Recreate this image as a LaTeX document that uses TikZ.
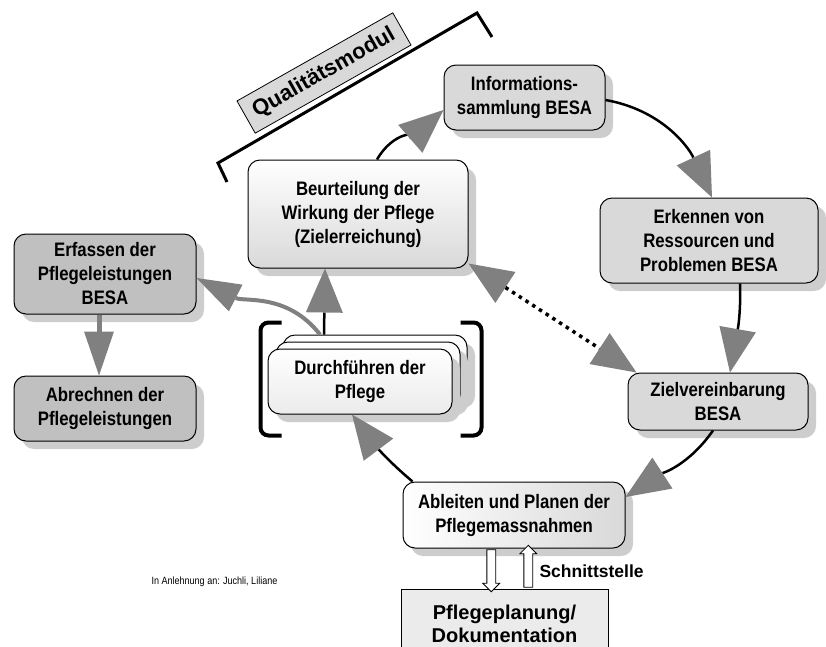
\documentclass[tikz,border=0pt]{standalone}
\usepackage{fontspec}
\setmainfont{Liberation Sans}
\newfontfamily\narrowfont{Liberation Sans}[FakeStretch=0.86]
\usetikzlibrary{shapes.arrows, arrows.meta, shadows, positioning, calc}
\definecolor{arrowgray}{RGB}{128, 128, 128}
\definecolor{besagray}{RGB}{217, 217, 217}
\definecolor{costgray}{RGB}{192, 192, 192}
\definecolor{shadowgray}{RGB}{205, 205, 205}
\definecolor{docgray}{RGB}{235, 235, 235}

\begin{document}
\begin{tikzpicture}[
  x=1pt, y=1pt,
  font=\narrowfont\bfseries\fontsize{19.5}{24}\selectfont,
  processbox/.style={
    draw=black,
    line width=1pt,
    rounded corners=12pt,
    align=center,
    inner sep=2pt,
    drop shadow={shadow xshift=8pt, shadow yshift=-8pt, fill=shadowgray, opacity=1},
  },
  besabox/.style={processbox, fill=besagray},
  costbox/.style={processbox, fill=costgray},
  evalbox/.style={processbox, top color=white, bottom color=besagray},
  planbox/.style={processbox, left color=white, right color=besagray},
  stackbox/.style={processbox, top color=white, bottom color=docgray},
  docbox/.style={
    draw=black,
    line width=1pt,
    fill=docgray,
    align=center,
    font=\rmfamily\bfseries\fontsize{20}{23}\selectfont,
  },
  qualbox/.style={
    draw=black,
    line width=0.8pt,
    fill=besagray,
    font=\rmfamily\bfseries\fontsize{22}{24}\selectfont,
  },
  bigtip/.tip={Triangle[length=44pt, width=37pt, fill=arrowgray, color=arrowgray, line width=0pt]},
  cyclearrow/.style={
    draw=black,
    line width=2.5pt,
    -bigtip,
  },
  feedbackarrow/.style={
    draw=arrowgray,
    line width=4pt,
    -{Triangle[length=44pt, width=30pt, fill=arrowgray, color=arrowgray, line width=0pt]},
  },
  interfacearrow/.style={
    single arrow,
    draw=black,
    line width=0.8pt,
    fill=white,
    inner sep=4pt,
    minimum height=42pt,
    single arrow head extend=4pt,
  },
  bracket/.style={line width=4pt, rounded corners=8pt},
]
  \useasboundingbox (0,0) rectangle (826,-646);

  % Kreislauf
  \node[besabox, minimum width=161pt, minimum height=65pt] (info) at (524.5,-97.5) {Informations-\\sammlung BESA};
  \node[besabox, minimum width=218pt, minimum height=85pt] (erkennen) at (709,-240.5) {Erkennen von\\Ressourcen und\\Problemen BESA};
  \node[besabox, minimum width=180pt, minimum height=57pt] (ziel) at (718,-401.5) {Zielvereinbarung\\BESA};
  \node[planbox, minimum width=222pt, minimum height=66pt] (ableiten) at (514,-515) {Ableiten und Planen der\\Pflegemassnahmen};
  \node[evalbox, minimum width=220pt, minimum height=108pt] (beurteilung) at (358,-214) {Beurteilung der\\Wirkung der Pflege\\(Zielerreichung)};

  % Durchfuehren (Stapel)
  \node[stackbox, minimum width=184pt, minimum height=65pt] (durch3) at (375,-367.5) {};
  \node[stackbox, minimum width=184pt, minimum height=65pt] (durch2) at (368,-374.5) {};
  \node[stackbox, minimum width=184pt, minimum height=65pt] (durch) at (360,-381.5) {Durchführen der\\Pflege};
  \draw[bracket] ([shift={(14,26)}]durch.north west) -| ([shift={(-7,-21)}]durch.south west) -- ++(21,0);
  \draw[bracket] ([shift={(8,26)}]durch.north east) -| ([shift={(29,-21)}]durch.south east) -- ++(-21,0);

  % Leistungserfassung
  \node[costbox, minimum width=182pt, minimum height=80pt] (erfassen) at (105,-274) {Erfassen der\\Pflegeleistungen\\BESA};
  \node[costbox, minimum width=182pt, minimum height=65pt, below=61pt of erfassen] (abrechnen) {Abrechnen der\\Pflegeleistungen};

  % Dokumentation
  \node[docbox, minimum width=207pt, minimum height=70pt] (doku) at (504.5,-624) {Pflegeplanung/\\Dokumentation};
  \node[interfacearrow, rotate=-90] (nachdoku) at ($(ableiten.south)!0.5!(doku.north) + (-18,0)$) {};
  \node[interfacearrow, rotate=90] (vondoku) at ($(ableiten.south)!0.5!(doku.north) + (19,0)$) {};
  \node[font=\rmfamily\bfseries\fontsize{17.5}{20}\selectfont, anchor=west] (schnitt) at (536,-571) {Schnittstelle};

  % Qualitaetsmodul
  \node[qualbox, minimum width=179pt, minimum height=37pt, rotate=29.5] (qual) at (324,-73) {Qualitätsmodul};
  \draw[line width=3pt] (227,-182) -- (218,-163) -- (477,-13) -- (492,-37);

  \node[font=\narrowfont\fontsize{10.5}{13}\selectfont, anchor=west] (quelle) at (148,-582) {In Anlehnung an: Juchli, Liliane};

  % Pfeile
  \draw[cyclearrow] ([xshift=19pt]beurteilung.north) to[out=60, in=221] ([yshift=-12.5pt]info.west);
  \draw[cyclearrow] ([yshift=-2.5pt]info.east) to[out=-10, in=115] ([xshift=3pt]erkennen.north);
  \draw[cyclearrow] ([xshift=31pt]erkennen.south) to[out=-88, in=80] ([xshift=12pt]ziel.north);
  \draw[cyclearrow] ([xshift=-5pt]ziel.south) to[out=235, in=33] ([yshift=18pt]ableiten.east);
  \draw[cyclearrow] ([xshift=10pt]ableiten.north west) to[out=140, in=307] ([xshift=-8pt]durch.south);
  \draw[cyclearrow] ([xshift=-51pt]durch3.north) -- ([xshift=-33pt]beurteilung.south);
  \draw[cyclearrow, bigtip-bigtip, line width=3.5pt, dash pattern=on 3.5pt off 4.5pt]
    ([yshift=5pt]beurteilung.south east) -- ([xshift=9pt]ziel.north west);
  \draw[feedbackarrow] ([xshift=-55pt]durch3.north) to[out=128, in=-27] ([yshift=-4pt]erfassen.east);
  \draw[feedbackarrow, line width=5pt] ([xshift=-6pt]erfassen.south) -- ([xshift=-6pt]abrechnen.north);

\end{tikzpicture}
\end{document}
